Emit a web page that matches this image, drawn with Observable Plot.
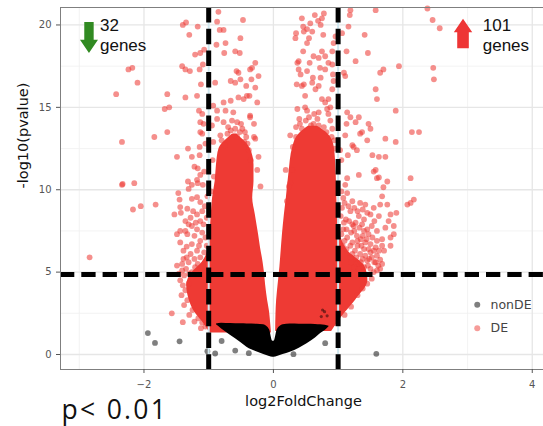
<!DOCTYPE html>
<html><head><meta charset="utf-8">
<script src="https://cdn.jsdelivr.net/npm/d3@7"></script>
<script src="https://cdn.jsdelivr.net/npm/@observablehq/plot@0.6"></script>
<style>body{margin:0;background:#fff;} #chart{width:543px;height:426px;overflow:hidden;}</style>
</head><body><div id="chart"></div>
<script>
// ---- axis ticks ----
const xTicks = [-2, 0, 2, 4];
const xMinor = [-3, -1, 1, 3];
const yTicks = [0, 5, 10, 15, 20];
const yMinor = [2.5, 7.5, 12.5, 17.5];
// ---- thresholds ----
const fcCutoffs = [-1, 1];
const pCutoff = [4.85];
// ---- dense DE cores (envelopes) ----
const leftWingY  = [1.3, 2.0, 2.6, 3.3, 4.2, 5.0, 5.6, 6.5, 7.3, 8.5, 9.5, 10.5, 11.5, 12.5, 13.0, 13.35];
const leftWingX1 = [-0.98, -1.1, -1.22, -1.3, -1.34, -1.25, -1.1, -1.0, -0.98, -0.96, -0.94, -0.9, -0.88, -0.84, -0.74, -0.64];
const leftWingX2 = [-0.03, -0.045, -0.06, -0.09, -0.12, -0.14, -0.16, -0.2, -0.23, -0.28, -0.32, -0.3, -0.3, -0.36, -0.46, -0.56];
const rightWingY  = [1.4, 2.5, 3.3, 4.5, 5.3, 6.3, 7.3, 8.5, 9.5, 11, 12.6, 13.4, 13.85];
const rightWingX1 = [0.035, 0.04, 0.05, 0.08, 0.1, 0.12, 0.14, 0.17, 0.2, 0.24, 0.3, 0.4, 0.54];
const rightWingX2 = [0.9, 1.1, 1.27, 1.46, 1.42, 1.15, 1.03, 0.99, 0.98, 0.97, 0.94, 0.84, 0.68];
// ---- dense nonDE core ----
const nonDECoreX    = [-0.88, -0.8, -0.66, -0.5, -0.41, -0.25, -0.15, -0.06, -0.01, 0.01, 0.06, 0.15, 0.26, 0.4, 0.52, 0.65, 0.73, 0.8, 0.86];
const nonDECoreLow  = [1.8, 1.55, 1.15, 0.72, 0.44, 0.15, 0.0, -0.12, -0.16, -0.16, -0.12, 0.0, 0.14, 0.38, 0.65, 1.0, 1.27, 1.45, 1.68];
const nonDECoreHigh = [1.85, 1.9, 1.88, 1.86, 1.85, 1.84, 1.8, 1.5, 0.8, 0.8, 1.5, 1.8, 1.85, 1.84, 1.84, 1.82, 1.8, 1.77, 1.72];
// ---- individual DE genes [log2FC, -log10 p] ----
const deLeftOuter = [[-1.40,20.0],[-1.35,20.15],[-1.30,19.4],[-1.17,19.9],[-2.24,17.3],[-2.18,17.4],[-2.10,16.5],[-2.43,15.8],[-1.64,15.8],
[-1.41,17.5],[-1.36,17.3],[-1.29,17.2],[-1.14,17.3],[-1.09,17.6],[-1.21,18.2],[-1.13,18.3],[-1.07,18.5],[-1.12,16.4],[-1.36,15.6],[-1.18,15.7],
[-1.68,14.9],[-1.61,15.0],[-1.15,14.8],[-1.10,14.6],[-1.13,14.1],[-1.08,14.0],[-2.34,12.9],[-1.84,13.2],[-1.64,13.5],[-1.13,13.5],[-1.10,13.4],
[-1.32,12.5],[-1.14,12.6],[-1.05,12.8],[-1.49,12.0],[-1.26,12.0],[-1.14,12.1],[-1.22,11.4],[-1.17,11.3],[-1.13,10.9],[-1.07,11.1],
[-1.32,10.5],[-1.26,10.3],[-1.17,10.4],[-1.09,10.3],[-1.18,10.6],[-2.34,10.3],[-2.33,10.35],[-2.15,10.4],[-2.17,8.8],[-2.05,9.0],[-1.82,9.1],
[-1.47,9.8],[-1.45,9.4],[-1.53,8.5],[-1.43,8.6],[-1.31,10.05],[-1.26,9.45],[-1.18,9.55],[-1.13,9.25],[-1.44,8.95],[-1.33,8.85],
[-1.28,8.3],[-1.18,8.5],[-1.10,8.7],[-1.13,8.1],[-1.26,7.8],[-1.44,7.5],[-1.49,7.3],[-1.33,7.3],[-1.18,7.6],[-1.10,7.4],[-1.36,7.5],
[-1.44,6.8],[-1.34,6.55],[-1.26,6.7],[-1.13,6.9],[-1.18,6.3],[-1.13,5.9],[-1.39,5.8],[-1.31,5.6],[-1.21,5.3],[-1.49,5.4],[-1.41,5.1],
[-1.26,5.0],[-1.44,4.5],[-1.31,4.3],[-1.24,4.7],[-1.41,5.5],[-1.34,5.9],[-2.84,5.9],[-1.57,2.5],[-1.40,1.96],
[-1.36,3.9],[-1.33,3.3],[-1.25,2.7],[-1.16,2.2],[-1.40,4.2],[-1.05,1.7],[-1.10,1.95],
[-1.02,9.6],[-1.06,9.0],[-1.03,8.3],[-1.08,7.9],[-1.05,7.1],[-1.03,6.6],[-1.07,6.2],[-1.15,6.6],[-1.22,7.2],[-1.20,8.0],[-1.24,8.7],
[-1.36,8.1],[-1.31,7.9],[-1.39,6.3],[-1.22,5.8],[-1.17,5.5],[-1.28,6.1],[-1.35,5.2],[-1.30,4.9],[-1.38,4.8],[-1.46,4.9],[-1.20,4.9],
[-1.42,3.6],[-1.38,3.0],[-1.30,2.4],[-1.22,2.0],[-1.12,1.6]];
const deLeftInner = [[-0.85,20.8],[-0.87,20.2],[-0.77,19.7],[-0.83,19.7],[-0.47,20.3],[-0.51,19.2],[-0.88,18.8],[-0.74,18.9],[-0.76,18.3],
[-0.59,18.4],[-0.52,18.3],[-0.28,17.7],[-0.36,17.3],[-0.57,17.2],[-0.54,17.1],[-0.90,16.5],[-0.66,16.6],[-0.59,16.5],[-0.51,16.7],[-0.34,16.7],
[-0.42,16.3],[-0.28,16.2],[-0.77,15.3],[-0.66,15.4],[-0.54,15.6],[-0.46,15.5],[-0.41,15.7],[-0.87,14.8],[-0.74,14.8],[-0.62,14.7],[-0.87,14.3],
[-0.77,14.1],[-0.64,14.2],[-0.56,14.1],[-0.36,14.4],[-0.59,13.7],[-0.48,13.7],[-0.42,13.2],[-0.56,13.2],[-0.71,13.4],[-0.30,13.2],
[-0.33,17.4],[-0.23,16.9],[-0.37,15.7],[-0.25,15.3],[-0.36,14.5],[-0.30,14.0],[-0.28,13.1],[-0.23,12.0],[-0.25,11.2],[-0.20,10.2],
[-0.93,15.1],[-0.95,13.9],[-0.93,12.9],[-0.94,11.8],[-0.92,10.8],[-0.96,9.9],[-0.82,13.3],[-0.66,13.6],[-0.52,13.5],[-0.45,12.9],[-0.38,12.4],[-0.35,11.8],
[-0.80,13.0],[-0.70,13.8],[-0.60,13.3],[-0.50,14.0],[-0.44,13.5],[-0.75,12.7],[-0.40,12.8]];
const deRightInner = [[0.44,20.4],[0.78,20.7],[0.75,20.4],[0.57,20.1],[0.46,19.9],[0.73,20.0],[0.47,19.6],[0.60,19.6],[0.77,19.4],[0.34,19.2],
[0.55,19.2],[0.52,18.9],[0.93,18.9],[0.96,19.3],[0.46,18.4],[0.75,18.4],[0.91,18.4],[0.62,18.1],[0.70,18.0],[0.80,18.1],[0.39,17.8],[0.56,17.7],
[0.85,17.7],[0.91,17.6],[0.39,17.3],[0.52,17.2],[0.72,17.4],[0.80,17.3],[0.42,17.0],[0.61,16.8],[0.73,16.8],[0.92,17.0],[0.93,16.6],[0.36,16.4],
[0.47,16.4],[0.60,16.5],[0.70,16.3],[0.65,16.1],[0.49,15.7],[0.91,16.1],[0.75,15.5],[0.85,15.5],[0.80,15.3],[0.37,14.9],[0.49,15.0],[0.52,14.8],
[0.70,14.7],[0.83,14.9],[0.88,15.0],[0.85,14.6],[0.62,14.0],[0.78,13.8],[0.91,13.7],[0.41,14.0],[0.44,13.7],[0.37,17.7],[0.44,16.3],
[0.26,13.3],[0.19,11.2],[0.24,10.2],[0.21,9.3],[0.29,11.2],[0.26,10.4],[0.64,20.6],[0.69,20.25],[0.35,19.5],[0.52,19.75],
[0.35,13.2],[0.50,14.2],[0.68,14.3],[0.90,13.2],[0.95,12.5],[0.58,13.9],
[0.35,13.8],[0.40,14.3],[0.55,14.4],[0.70,13.9],[0.82,13.5],[0.88,14.2],[0.63,14.6],[0.30,12.6],[0.94,13.0]];
const deRightOuter = [[1.18,20.6],[1.19,20.9],[1.58,20.9],[1.16,19.9],[1.41,19.4],[1.06,19.5],[1.13,18.4],[1.46,18.3],[1.27,17.8],[1.70,17.3],
[1.65,17.1],[1.94,17.5],[2.47,17.4],[2.48,16.7],[2.46,20.3],[2.57,19.8],[2.38,21.0],[1.09,17.1],[1.11,16.9],[1.58,16.1],[1.60,15.5],[1.89,14.8],
[1.14,14.7],[1.19,14.4],[1.32,14.4],[1.13,14.0],[1.27,14.1],[1.47,14.0],[1.50,13.7],[1.34,13.4],[1.37,13.5],[1.11,13.3],[1.22,12.7],[1.45,13.0],
[1.73,13.1],[1.89,12.9],[2.14,13.5],[2.25,13.5],[1.24,12.6],[1.29,12.4],[1.53,12.1],[1.63,12.0],[1.73,12.0],[1.15,12.1],[1.58,11.2],[1.60,10.7],
[1.32,10.9],[1.14,10.7],[1.11,10.3],[2.12,10.7],[1.76,10.5],[1.70,10.15],[1.05,11.8],[1.03,12.4],
[1.55,11.1],[1.63,10.75],[1.14,9.8],[1.34,9.2],[1.42,9.1],[1.68,9.6],[1.76,9.1],[1.65,9.1],[2.07,9.1],[2.12,9.2],[2.17,9.4],[1.19,8.7],
[1.32,8.4],[1.50,8.5],[1.63,8.4],[1.81,8.5],[1.90,8.6],[1.78,8.1],[1.24,7.8],[1.37,7.9],[1.45,7.6],[1.60,7.5],[1.73,7.7],[1.86,7.8],
[1.14,7.1],[1.29,7.2],[1.53,7.1],[1.68,7.0],[1.81,7.1],[1.86,7.3],[1.19,6.6],[1.42,6.8],[1.58,6.5],[1.71,6.3],[1.81,6.6],[1.34,6.1],
[1.50,6.2],[1.60,6.0],[1.63,6.3],[1.19,5.9],[1.45,5.7],[1.58,5.6],[1.29,5.5],
[1.08,9.5],[1.22,9.3],[1.06,8.9],[1.12,8.2],[1.40,8.2],[1.55,8.9],[1.27,8.0],[1.08,7.6],[1.20,7.4],[1.35,7.0],[1.47,7.3],[1.60,6.9],
[1.68,6.6],[1.26,6.3],[1.40,6.4],[1.10,6.9],[1.52,5.9],[1.38,5.8],[1.65,5.75],
[1.30,3.6],[1.38,4.0],[1.20,2.9],[1.45,4.3],[1.52,4.6],[1.50,5.2],[1.55,5.0],[1.10,2.4],[0.95,1.9],
[1.05,9.9],[1.10,9.2],[1.16,9.0],[1.25,8.9],[1.30,8.7],[1.38,8.8],[1.45,8.6],[1.04,8.4],[1.09,8.0],[1.17,8.1],[1.22,7.9],[1.33,7.7],
[1.40,7.5],[1.52,7.8],[1.56,8.1],[1.05,7.3],[1.13,7.6],[1.25,7.5],[1.30,6.9],[1.38,7.2],[1.44,7.0],[1.50,6.7],[1.07,6.6],[1.13,6.4],
[1.22,6.8],[1.30,6.6],[1.36,6.6],[1.47,6.4],[1.55,6.3],[1.22,6.1],[1.28,5.9],[1.35,5.6],[1.42,6.0],[1.48,5.8],[1.56,5.6],[1.62,5.4],
[1.68,5.5],[1.20,5.6],[1.25,5.3],[1.32,5.2],[1.40,5.3],[1.46,5.4],[1.60,5.1],[1.65,5.2]];
// ---- individual nonDE genes ----
const nonDE = [[-1.94,1.3],[-1.83,0.7],[-1.45,0.8],[-1.02,0.2],[-0.90,0.06],[-0.80,0.82],[-0.59,0.24],[-0.38,0.08],[0.31,0.02],[0.80,0.69],[1.59,0.04]];
const nonDEHidden = [[0.74,2.3],[0.79,2.6],[0.83,2.35],[0.76,2.7]];
// ---- legend & annotations ----
const legendLabels = ["nonDE", "DE"];
const geneCounts = ["32", "101"];
const pLabel = ["p< 0.01"];
const xTitle = ["log2FoldChange"];
const yTitle = ["-log10(pvalue)"];

const RED = "#ee3a34";
const toPts = a => a.map(([x, y]) => ({x, y}));
const deAll = toPts([...deLeftOuter, ...deLeftInner, ...deRightInner, ...deRightOuter]);
const leftWing = leftWingY.map((y, i) => ({y, x1: leftWingX1[i], x2: leftWingX2[i]}));
const rightWing = rightWingY.map((y, i) => ({y, x1: rightWingX1[i], x2: rightWingX2[i]}));
const core = nonDECoreX.map((x, i) => ({x, y1: nonDECoreLow[i], y2: nonDECoreHigh[i]}));

const arrowDown = {draw(c) { c.moveTo(-4.7,-15.5); c.lineTo(4.7,-15.5); c.lineTo(4.7,2.3); c.lineTo(9,2.3); c.lineTo(0,15.5); c.lineTo(-9,2.3); c.lineTo(-4.7,2.3); c.closePath(); }};
const arrowUp = {draw(c) { c.moveTo(0,-14.7); c.lineTo(9.2,-1.3); c.lineTo(5.8,-1.3); c.lineTo(5.8,14.7); c.lineTo(-5.8,14.7); c.lineTo(-5.8,-1.3); c.lineTo(-9.2,-1.3); c.closePath(); }};

const chart = Plot.plot({
  width: 543, height: 426,
  marginLeft: 60, marginRight: -3, marginTop: 7, marginBottom: 57,
  x: {domain: [-3.29, 4.22]},
  y: {domain: [-0.91, 21.06]},
  style: {fontFamily: "DejaVu Sans", background: "white", overflow: "hidden"},
  marks: [
    Plot.gridX(xMinor, {stroke: "#f0f0f0", strokeOpacity: 1, strokeWidth: 0.8}),
    Plot.gridY(yMinor, {stroke: "#f0f0f0", strokeOpacity: 1, strokeWidth: 0.8}),
    Plot.gridX(xTicks, {stroke: "#e6e6e6", strokeOpacity: 1, strokeWidth: 1.3}),
    Plot.gridY(yTicks, {stroke: "#e6e6e6", strokeOpacity: 1, strokeWidth: 1.3}),
    Plot.areaX(leftWing, {y: "y", x1: "x1", x2: "x2", fill: RED, curve: "monotone-y"}),
    Plot.areaX(rightWing, {y: "y", x1: "x1", x2: "x2", fill: RED, curve: "monotone-y"}),
    Plot.dot(deAll, {x: "x", y: "y", r: 2.9, fill: RED, fillOpacity: 0.57, stroke: "none"}),
    Plot.areaY(core, {x: "x", y1: "y1", y2: "y2", fill: "black", curve: "monotone-x"}),
    Plot.dot(toPts(nonDE), {x: "x", y: "y", r: 2.9, fill: "black", fillOpacity: 0.5, stroke: "none"}),
    Plot.dot(toPts(nonDEHidden), {x: "x", y: "y", r: 1.6, fill: "black", fillOpacity: 0.45, stroke: "none"}),
    Plot.ruleX(fcCutoffs, {stroke: "#cfe6ee", strokeWidth: 2}),
    Plot.ruleX(fcCutoffs, {stroke: "black", strokeWidth: 5, strokeDasharray: "15.5,6.2"}),
    Plot.ruleY(pCutoff, {stroke: "black", strokeWidth: 5, strokeDasharray: "14.3,7"}),
    Plot.frame({stroke: "#7f7f7f", strokeWidth: 1}),
    Plot.axisX({ticks: xTicks, tickSize: 4, tickPadding: 7, fontSize: 10, color: "#555", label: null}),
    Plot.axisY({ticks: yTicks, tickSize: 4, tickPadding: 5, fontSize: 10, color: "#555", label: null}),
    Plot.text(xTitle, {text: d => d, frameAnchor: "bottom", dy: 36, lineAnchor: "bottom", fontSize: 14.5, fill: "#111"}),
    Plot.text(yTitle, {text: d => d, frameAnchor: "left", dx: -33, rotate: -90, lineAnchor: "bottom", fontSize: 14.5, fill: "#111"}),
    // legend
    Plot.dot(legendLabels, {x: 3.15, y: (d, i) => i === 0 ? 3.02 : 1.60, r: 3, fill: (d, i) => i === 0 ? "black" : RED, fillOpacity: 0.5, stroke: "none"}),
    Plot.text(legendLabels, {x: 3.355, y: (d, i) => i === 0 ? 3.02 : 1.60, text: d => d, textAnchor: "start", fontSize: 12.5, fill: "#444"}),
    // annotations
    Plot.dot(geneCounts, {x: (d, i) => i === 0 ? -2.85 : 2.93, y: (d, i) => i === 0 ? 19.24 : 19.48, symbol: (d, i) => i === 0 ? arrowDown : arrowUp, r: 5, fill: (d, i) => i === 0 ? "#318a22" : "#ee3535", stroke: "none"}),
    Plot.text(geneCounts, {x: (d, i) => i === 0 ? -2.68 : 3.235, y: 18.45, text: d => d + "\ngenes", textAnchor: "start", lineAnchor: "bottom", lineHeight: 1.14, fontSize: 17, fontFamily: "Liberation Sans", fill: "#111"}),
    Plot.text(pLabel, {text: d => d, frameAnchor: "bottom-left", dx: 1, dy: 49, textAnchor: "start", lineAnchor: "bottom", fontSize: 26.5, fontFamily: "Open Sans", fill: "#111"})
  ]
});
d3.select(chart).selectAll("text").filter(function() { return this.textContent === "p< 0.01"; }).style("letter-spacing", "2.3px");
document.getElementById("chart").appendChild(chart);
</script>
</body></html>
